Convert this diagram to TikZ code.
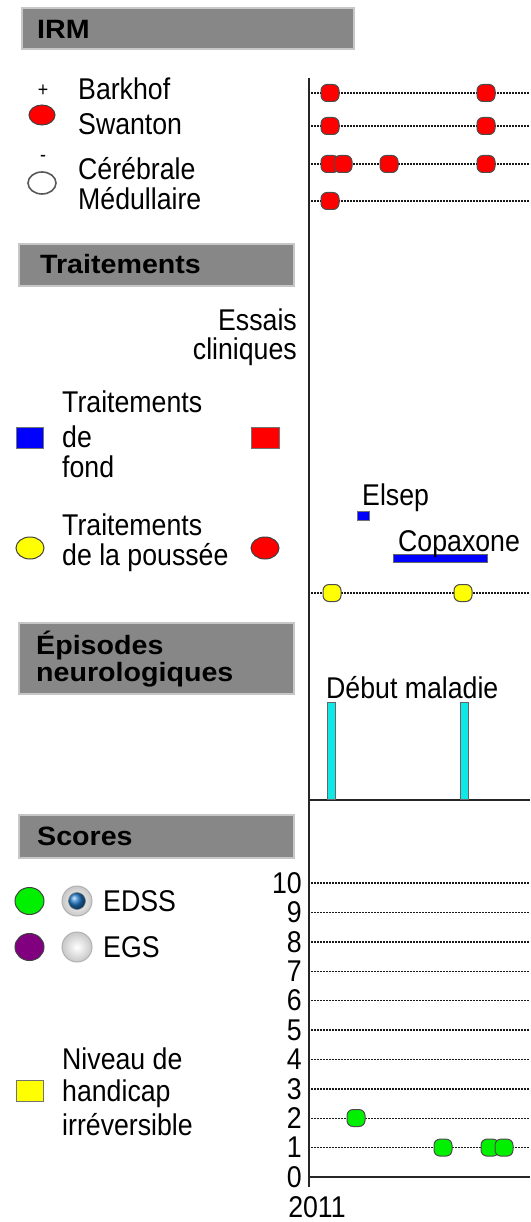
\documentclass[tikz,border=0pt]{standalone}
\usepackage{fontspec}
\setmainfont{Liberation Sans}[FakeStretch=0.89]
\newfontfamily\hdfont{Liberation Sans}[FakeStretch=1.08]
\usetikzlibrary{shapes.geometric}
\definecolor{hdgrey}{HTML}{878787}
\definecolor{mred}{HTML}{FF0000}
\definecolor{mgreen}{HTML}{00F000}
\definecolor{mpurple}{HTML}{800080}
\definecolor{myellow}{HTML}{FFFF00}
\definecolor{mblue}{HTML}{0000FF}
\definecolor{mcyan}{HTML}{10E8E8}
\definecolor{radioblue}{HTML}{1E78C8}
\begin{document}
\begin{tikzpicture}[x=1pt,y=-1pt,
  txt/.style={font=\fontsize{30}{33}\selectfont, inner sep=0, text=black},
  small/.style={font=\fontsize{20}{22}\selectfont, inner sep=0, text=black},
  hdr/.style={fill=hdgrey, draw=black!22, line width=2pt, inner sep=0, anchor=north west},
  hdtxt/.style={font=\hdfont\bfseries\fontsize{26.5}{29}\selectfont, inner sep=0, text=black},
  dotline/.style={black!90, line width=1.4pt, dash pattern=on 1.5pt off 1.5pt},
  axis/.style={black!85, line width=2.4pt},
  dot/.style={rectangle, rounded corners=6pt, minimum width=18pt, minimum height=17pt, inner sep=0, draw=black!70, line width=1pt},
  legcirc/.style={ellipse, minimum width=28pt, minimum height=22pt, inner sep=0, draw=black!75, line width=1pt},
  legsq/.style={rectangle, minimum width=27pt, minimum height=21pt, inner sep=0, draw=black!55, line width=1pt},
  bar/.style={fill=mcyan, draw=black!60, line width=1pt},
]
\useasboundingbox (0,0) rectangle (530,1222);
\fill[white] (0,0) rectangle (530,1222);

% ---------- axes ----------
\coordinate (axTop) at (309,78);
\coordinate (axBot) at (309,1187);
\coordinate (sepL) at (309,800);
\coordinate (sepR) at (530,800);
\coordinate (xaL) at (309,1177);
\coordinate (xaR) at (530,1177);
\draw[axis] (axTop) -- (axBot);
\draw[black!85, line width=2pt] (sepL) -- (sepR);
\draw[axis] (xaL) -- (xaR);

% ---------- IRM ----------
\node[hdr, minimum width=332pt, minimum height=41pt] (hIRM) at (21,7) {};
\node[hdtxt, anchor=west] (tIRM) at (37,29) {IRM};

\node[small] (plus) at (43,91) {+};
\node[legcirc, minimum width=26pt, minimum height=20pt, fill=mred] (lgRed) at (42,115) {};
\node[small] (minus) at (43,158) {-};
\node[legcirc, fill=white, draw=black!65, line width=1.6pt] (lgWhite) at (42,183) {};
\node[txt, anchor=base west] (tBark) at (78,100) {Barkhof};
\node[txt, anchor=base west] (tSwan) at (78,135) {Swanton};
\node[txt, anchor=base west] (tCere) at (78,180) {Cérébrale};
\node[txt, anchor=base west] (tMedu) at (78,210) {Médullaire};

\foreach \r/\y in {1/93,2/126,3/164,4/201}{
  \coordinate (irm\r s) at (311,\y);
  \coordinate (irm\r e) at (530,\y);
  \draw[dotline] (irm\r s) -- (irm\r e);
}
\node[dot, fill=mred] (d1a) at (330,93) {};
\node[dot, fill=mred] (d1b) at (486,93) {};
\node[dot, fill=mred] (d2a) at (330,126) {};
\node[dot, fill=mred] (d2b) at (486,126) {};
\node[dot, fill=mred] (d3a) at (330,164) {};
\node[dot, fill=mred] (d3b) at (343,164) {};
\node[dot, fill=mred] (d3c) at (389,164) {};
\node[dot, fill=mred] (d3d) at (486,164) {};
\node[dot, fill=mred] (d4a) at (330,201) {};

% ---------- Traitements ----------
\node[hdr, minimum width=275pt, minimum height=42pt] (hTrt) at (18,243) {};
\node[hdtxt, anchor=west] (tTrt) at (40,264) {Traitements};

\node[txt, anchor=base east] (tEss1) at (297,330) {Essais};
\node[txt, anchor=base east] (tEss2) at (297,359) {cliniques};

\node[txt, anchor=base west] (tFond1) at (62,412) {Traitements};
\node[txt, anchor=base west] (tFond2) at (62,447) {de};
\node[txt, anchor=base west] (tFond3) at (62,477) {fond};
\node[legsq, fill=mblue] (lgBlue) at (29.5,437.5) {};
\node[legsq, fill=mred, minimum width=28pt] (lgRedSq) at (265,437.5) {};

\node[txt, anchor=base west] (tPou1) at (62,535) {Traitements};
\node[txt, anchor=base west] (tPou2) at (62,565) {de la poussée};
\node[legcirc, fill=myellow] (lgYel) at (30,548) {};
\node[legcirc, fill=mred] (lgRedC) at (265,548) {};

\node[rectangle, minimum width=12pt, minimum height=9pt, inner sep=0, fill=mblue, draw=black!55, line width=0.8pt] (elsep) at (363,515.5) {};
\node[txt, anchor=base west] (tElsep) at (362,505) {Elsep};
\node[rectangle, minimum width=94pt, minimum height=8pt, inner sep=0, fill=mblue, draw=black!60, line width=0.8pt] (copax) at (440,558) {};
\node[txt, anchor=base west] (tCopax) at (398,551) {Copaxone};

\coordinate (yls) at (311,593);
\coordinate (yle) at (530,593);
\draw[dotline] (yls) -- (yle);
\node[dot, fill=myellow] (y1) at (332,593) {};
\node[dot, fill=myellow] (y2) at (463,593) {};

% ---------- Episodes ----------
\node[hdr, minimum width=275pt, minimum height=71pt] (hEpi) at (18,622) {};
\node[hdtxt, anchor=base west] (tEpi1) at (36,654) {Épisodes};
\node[hdtxt, anchor=base west] (tEpi2) at (36,681) {neurologiques};

\node[txt, anchor=base west] (tDeb) at (326,698) {Début maladie};
\draw[bar] (327,702) rectangle (335,799);
\draw[bar] (460,702) rectangle (468,799);

% ---------- Scores ----------
\node[hdr, minimum width=275pt, minimum height=43pt] (hSco) at (18,814) {};
\node[hdtxt, anchor=west] (tSco) at (37,836) {Scores};

\node[legcirc, minimum width=29pt, minimum height=27pt, fill=mgreen] (lgGreen) at (29.5,901) {};
\node[legcirc, minimum width=29pt, minimum height=27pt, fill=mpurple] (lgPurp) at (29.5,947) {};
% radio buttons
\node[circle, minimum size=30pt, inner sep=0, draw=black!30, line width=1pt, inner color=white, outer color=black!22] (rbEdss) at (77,901) {};
\node[circle, minimum size=17pt, inner sep=0, draw=black!50, line width=0.6pt, shading=ball, ball color=radioblue] (rbEdssIn) at (77,901) {};
\node[circle, minimum size=30pt, inner sep=0, draw=black!30, line width=1pt, inner color=white, outer color=black!22] (rbEgs) at (77,947) {};
\node[txt, anchor=west] (tEdss) at (103,901) {EDSS};
\node[txt, anchor=west] (tEgs) at (103,947) {EGS};

\node[legsq, fill=myellow] (lgYelSq) at (29.5,1090.5) {};
\node[txt, anchor=base west] (tNiv1) at (62,1069) {Niveau de};
\node[txt, anchor=base west] (tNiv2) at (62,1101) {handicap};
\node[txt, anchor=base west] (tNiv3) at (62,1135) {irréversible};

\foreach \n in {0,...,10}{
  \node[txt, anchor=east] (lab\n) at (302,{1177-29.4*\n}) {\n};
}
\foreach \n in {1,...,10}{
  \coordinate (sl\n s) at (311,{1177-29.4*\n});
  \coordinate (sl\n e) at (530,{1177-29.4*\n});
  \draw[dotline] (sl\n s) -- (sl\n e);
}
\node[dot, fill=mgreen] (g1) at (356,1118) {};
\node[dot, fill=mgreen] (g2) at (443,1147.6) {};
\node[dot, fill=mgreen] (g3) at (490,1147.6) {};
\node[dot, fill=mgreen] (g4) at (504,1147.6) {};

\node[txt] (tYear) at (317,1207) {2011};
\end{tikzpicture}
\end{document}
